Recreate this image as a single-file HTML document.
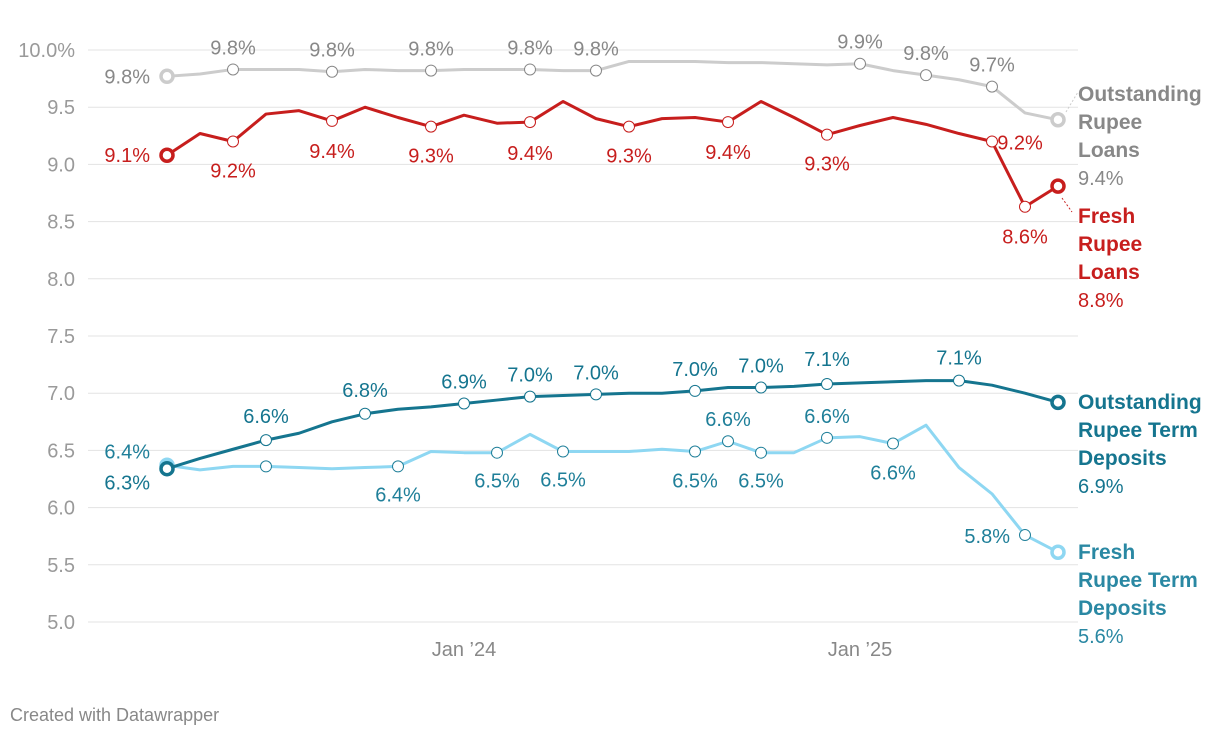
<!DOCTYPE html>
<html><head><meta charset="utf-8"><style>
body{margin:0;background:#fff;width:1220px;height:738px;overflow:hidden;font-family:"Liberation Sans",Roboto,sans-serif}
svg{position:absolute;left:0;top:0}
</style></head><body>
<svg id="chart" width="1220" height="738" font-family="Liberation Sans, sans-serif"></svg>
<script>
const months = ["Apr 23","May 23","Jun 23","Jul 23","Aug 23","Sep 23","Oct 23","Nov 23","Dec 23","Jan 24","Feb 24","Mar 24","Apr 24","May 24","Jun 24","Jul 24","Aug 24","Sep 24","Oct 24","Nov 24","Dec 24","Jan 25","Feb 25","Mar 25","Apr 25","May 25","Jun 25","Jul 25"];
const yTicks = [5.0,5.5,6.0,6.5,7.0,7.5,8.0,8.5,9.0,9.5,10.0];
const outLoans = [9.77,9.79,9.83,9.83,9.83,9.81,9.83,9.82,9.82,9.83,9.83,9.83,9.82,9.82,9.90,9.90,9.90,9.89,9.89,9.88,9.87,9.88,9.82,9.78,9.74,9.68,9.45,9.39];
const freshLoans = [9.08,9.27,9.20,9.44,9.47,9.38,9.50,9.41,9.33,9.43,9.36,9.37,9.55,9.40,9.33,9.40,9.41,9.37,9.55,9.41,9.26,9.34,9.41,9.35,9.27,9.20,8.63,8.81];
const outTD = [6.34,6.43,6.51,6.59,6.65,6.75,6.82,6.86,6.88,6.91,6.94,6.97,6.98,6.99,7.00,7.00,7.02,7.05,7.05,7.06,7.08,7.09,7.10,7.11,7.11,7.07,7.00,6.92];
const freshTD = [6.37,6.33,6.36,6.36,6.35,6.34,6.35,6.36,6.49,6.48,6.48,6.64,6.49,6.49,6.49,6.51,6.49,6.58,6.48,6.48,6.61,6.62,6.56,6.72,6.35,6.12,5.76,5.61];

const svg=document.getElementById('chart');
const NS='http://www.w3.org/2000/svg';
const X=i=>167+i*33;
const Y=v=>622-(v-5)*114.4;
function mk(tag,attrs,parent){const e=document.createElementNS(NS,tag);for(const k in attrs)e.setAttribute(k,attrs[k]);(parent||svg).appendChild(e);return e;}
function txt(x,y,s,fill,anchor,size,weight){const t=mk('text',{x:x,y:y,fill:fill,'text-anchor':anchor||'middle','font-size':size||20,'font-weight':weight||'normal'});t.textContent=s;return t;}

yTicks.forEach(v=>{
  const l=mk('line',{x1:88,x2:1078,y1:Y(v),y2:Y(v),stroke:'#e3e3e3','stroke-width':1});
  
  
  const t=txt(75,Y(v)+7,v===10?'10.0%':v.toFixed(1),'#9a9a9a','end',20);
  
  
});
[["Jan ’24",9],["Jan ’25",21]].forEach(([s,i])=>{
  const t=txt(X(i),656,s,'#888','middle',20);
  
  
});

function series(vals,color,lc,w,markers,labels,name){
  const g=mk('g',{});
  
  
  const p=mk('polyline',{points:vals.map((v,i)=>X(i)+','+Y(v)).join(' '),fill:'none',stroke:color,'stroke-width':w,'stroke-linejoin':'round'},g);
  
  
  markers.forEach(i=>{
    const c=mk('circle',{cx:X(i),cy:Y(vals[i]),r:5.5,fill:'#fff',stroke:lc,'stroke-width':1},g);
    
    
  });
  const c0=mk('circle',{cx:X(0),cy:Y(vals[0]),r:6,fill:'#fff',stroke:color,'stroke-width':3.5},g);
  
  
  const cl=mk('circle',{cx:X(vals.length-1),cy:Y(vals[vals.length-1]),r:6,fill:'#fff',stroke:color,'stroke-width':3.5},g);
  
  
  labels.forEach(([i,dx,dy,anc])=>{
    const t=txt(X(i)+dx,Y(vals[i])+dy,vals[i].toFixed(1)+'%',lc,anc||'middle',20);
    
    
  });
}
series(outLoans,'#cccccc','#888888',3,[2,5,8,11,13,21,23,25],[[0,-17,7,'end'],[2,0,-15],[5,0,-15],[8,0,-15],[11,0,-15],[13,0,-15],[21,0,-15],[23,0,-15],[25,0,-15]],'outstanding-loans');
series(freshLoans,'#c71e1d','#c71e1d',3,[2,5,8,11,14,17,20,25,26],[[0,-17,7,'end'],[2,0,36],[5,0,37],[8,0,36],[11,0,38],[14,0,36],[17,0,37],[20,0,36],[25,28,8],[26,0,37]],'fresh-loans');
series(freshTD,'#8ed7f2','#1f7f99',3,[3,7,10,12,16,17,18,20,22,26],[[0,-17,-7,'end'],[7,0,35],[10,0,35],[12,0,35],[16,0,36],[17,0,-15],[18,0,35],[20,0,-15],[22,0,36],[26,-15,8,'end']],'fresh-term-deposits');
series(outTD,'#15758f','#15758f',3,[3,6,9,11,13,16,18,20,24],[[0,-17,21,'end'],[3,0,-17],[6,0,-17],[9,0,-15],[11,0,-15],[13,0,-15],[16,0,-15],[18,0,-15],[20,0,-18],[24,0,-16]],'outstanding-term-deposits');

function legend(lines,y,color,valcolor,val,name){
  const g=mk('g',{});
  
  
  lines.forEach((s,k)=>{const t=mk('text',{x:1078,y:y+k*28,fill:color,'font-size':21,'font-weight':'bold'},g);t.textContent=s;});
  const t=mk('text',{x:1078,y:y+lines.length*28,fill:valcolor,'font-size':20},g);t.textContent=val;
}
legend(['Outstanding','Rupee','Loans'],101,'#888','#888','9.4%','legend-outstanding-loans');
legend(['Fresh','Rupee','Loans'],223,'#c71e1d','#c71e1d','8.8%','legend-fresh-loans');
legend(['Outstanding','Rupee Term','Deposits'],409,'#15758f','#15758f','6.9%','legend-outstanding-term-deposits');
legend(['Fresh','Rupee Term','Deposits'],559,'#2a88a3','#2a88a3','5.6%','legend-fresh-term-deposits');
mk('line',{x1:1066,y1:112,x2:1078,y2:92,stroke:'#ccc','stroke-dasharray':'2,2'});
mk('line',{x1:1062,y1:198,x2:1072,y2:212,stroke:'#c71e1d','stroke-dasharray':'2,2'});
const credit=txt(10,721,'Created with Datawrapper','#888','start',18);


</script>
</body></html>
